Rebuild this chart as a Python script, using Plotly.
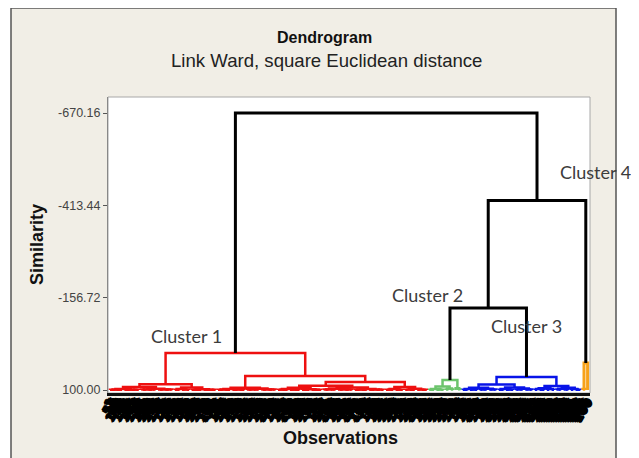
import plotly.graph_objects as go

# ---------------- data ----------------
# observation numbers in dendrogram (leaf) order
obs_order = [
    1, 57, 12, 88, 143, 23, 9, 171, 64, 35, 112, 7, 190, 46, 81, 133, 18, 102, 69, 155,
    3, 127, 41, 94, 166, 28, 75, 199, 14, 118, 53, 86, 140, 22, 61, 182, 37, 108, 5, 149,
    72, 30, 124, 161, 48, 96, 11, 187, 66, 135, 19, 79, 114, 43, 158, 2, 91, 176, 55, 120,
    26, 146, 68, 8, 193, 39, 101, 130, 60, 16, 174, 84, 49, 137, 24, 110, 163, 71, 33, 98,
    152, 13, 185, 58, 122, 44, 90, 6, 168, 77, 141, 31, 105, 197, 63, 20, 128, 51, 179, 85,
    38, 116, 159, 4, 74, 132, 195, 47, 99, 27, 170, 62, 10, 145, 83, 121, 36, 188, 56, 107,
    15, 164, 93, 42, 136, 70, 198, 29, 117, 154, 52, 80, 178, 21, 126, 65, 100, 40, 150, 87,
    173, 34, 119, 59, 191, 17, 97, 139, 76, 45, 162, 25, 109, 183, 67, 131, 50, 89, 156, 32,
    103, 194, 73, 134, 54, 148, 82, 177, 104, 92, 160, 111, 186, 125, 95, 144, 113, 172, 106, 138,
    78, 153, 115, 169, 123, 184, 129, 157, 142, 192, 147, 165, 175, 151, 180, 167, 189, 181, 196, 200,
]

# low-level leaf groups (tight sub-clusters near similarity 100)
group_names = ["r1", "r2", "r3", "r4", "r5", "r6", "r7", "r8", "r9", "r10", "r11", "r12",
               "g1", "g2", "g3",
               "b1", "b2", "b3", "b4", "b5", "b6", "b7", "b8",
               "o1", "o2"]
group_sizes = [13, 14, 7, 11, 12, 13, 10, 9, 13, 13, 8, 10,
               7, 4, 3,
               7, 8, 7, 8, 5, 4, 6, 5,
               2, 1]
group_top = [97.5, 96.5, 97.0, 98.0, 97.0, 96.0, 97.5, 98.0, 96.0, 97.0, 97.5, 96.5,
             97.0, 96.0, 95.0,
             97.0, 96.5, 97.0, 96.0, 97.5, 97.0, 96.5, 97.0,
             98.0, 100.0]
group_inner = [99.2, 98.8, 99.0, 99.3, 99.0, 98.8, 99.2, 99.3, 98.7, 99.0, 99.2, 99.0,
               99.0, 98.5, 98.0,
               99.0, 98.8, 99.0, 98.7, 99.2, 99.0, 98.8, 99.0,
               99.0, 100.0]
group_cluster = ["c1"] * 12 + ["c2"] * 3 + ["c3"] * 8 + ["c4"] * 2

# higher-level merges: name, left child, right child, similarity, cluster (None = black link)
merge_names = ["RA", "RB", "RL", "RC", "RD1", "RD2", "RD", "RE", "RRR", "RR", "RED",
               "GL", "GREEN",
               "BLa", "BLb", "BL", "BRa", "BRb", "BR", "BLUE",
               "ORANGE",
               "C23", "C4", "ROOT"]
merge_left = ["r1", "r3", "RA", "r5", "r7", "r9", "RD1", "r11", "RD", "RC", "RL",
              "g1", "GL",
              "b1", "b3", "BLa", "b5", "b7", "BRa", "BL",
              "o1",
              "GREEN", "C23", "RED"]
merge_right = ["r2", "r4", "RB", "r6", "r8", "r10", "RD2", "r12", "RE", "RRR", "RR",
               "g2", "g3",
               "b2", "b4", "BLb", "b6", "b8", "BRb", "BR",
               "o2",
               "BLUE", "ORANGE", "C4"]
merge_sim = [92.0, 93.0, 84.0, 94.0, 94.0, 93.0, 88.0, 92.0, 78.0, 61.0, -3.0,
             90.0, 72.0,
             94.0, 93.0, 85.0, 95.0, 94.0, 89.0, 64.0,
             25.0,
             -128.0, -427.0, -670.16]
merge_cluster = ["c1"] * 11 + ["c2"] * 2 + ["c3"] * 7 + ["c4"] + [None] * 3

y_tick_vals = [-670.16, -413.44, -156.72, 100.00]
y_tick_text = ["-670.16", "-413.44", "-156.72", "100.00"]

cluster_names = ["Cluster 1", "Cluster 2", "Cluster 3", "Cluster 4"]

# ---------------- styling ----------------
colors = {"c1": "#ee1010", "c2": "#6cc46c", "c3": "#0814e8", "c4": "#f7a21b", None: "#000000"}
widths = {"c1": 2.5, "c2": 2.5, "c3": 2.5, "c4": 3, None: 3}

# ---------------- build dendrogram geometry ----------------
groups = {n: (s, t, i, c) for n, s, t, i, c in
          zip(group_names, group_sizes, group_top, group_inner, group_cluster)}
merges = {n: (l, r, s, c) for n, l, r, s, c in
          zip(merge_names, merge_left, merge_right, merge_sim, merge_cluster)}

segs = {k: ([], []) for k in colors}


def add_link(key, x1, h1, x2, h2, h):
    xs, ys = segs[key]
    xs.extend([x1, x1, x2, x2, None])
    ys.extend([h1, h, h, h2, None])


def build_group(start, n, top, inner, depth, key):
    if n == 1:
        return start, 100.0
    nl = n // 2
    h = top if depth == 0 else inner
    x1, h1 = build_group(start, nl, top, inner, depth + 1, key)
    x2, h2 = build_group(start + nl, n - nl, top, inner, depth + 1, key)
    add_link(key, x1, h1, x2, h2, h)
    return (x1 + x2) / 2, h


counter = [0]


def place(name):
    if name in groups:
        n, top, inner, key = groups[name]
        start = counter[0]
        counter[0] += n
        return build_group(start, n, top, inner, 0, key)
    left, right, sim, key = merges[name]
    x1, h1 = place(left)
    x2, h2 = place(right)
    add_link(key, x1, h1, x2, h2, sim)
    return (x1 + x2) / 2, sim


place("ROOT")
n_leaves = counter[0]

fig = go.Figure()
for key in ["c1", "c2", "c3", "c4", None]:
    xs, ys = segs[key]
    fig.add_trace(go.Scatter(x=xs, y=ys, mode="lines",
                             line=dict(color=colors[key], width=widths[key]),
                             hoverinfo="skip", showlegend=False))

# ---------------- layout ----------------
OFF = 8  # page body margin
W, H = 639 - OFF, 458 - OFF
L, R, T, B = 108 - OFF, 639 - 590, 97 - OFF, 458 - 393
pw, ph = W - L - R, H - T - B


def px(xs):  # screen x -> paper
    return (xs - OFF - L) / pw


def py(ys):  # screen y -> paper
    return (H - B - (ys - OFF)) / ph


shapes = [
    dict(type="rect", xref="paper", yref="paper", x0=px(11), x1=px(616), y0=py(470), y1=py(8),
         fillcolor="#f1eee6", line=dict(color="#555555", width=1.5), layer="below"),
    dict(type="rect", xref="paper", yref="paper", x0=0, x1=1, y0=0, y1=1,
         fillcolor="#ffffff", line=dict(color="#a8a8a8", width=1), layer="below"),
]

label_font = dict(family="Lato, Open Sans, sans-serif", size=18, color="#3c3c3c")
axis_font = dict(family="Liberation Sans, Arial", size=18, color="#111111")


def ann(text, xs, ys, font, angle=0):
    return dict(text=text, xref="paper", yref="paper", x=px(xs), y=py(ys),
                xanchor="center", yanchor="middle", textangle=angle,
                showarrow=False, font=font)


annotations = [
    ann("<b>Dendrogram</b>", 324, 38, dict(family="Liberation Sans, Arial", size=16, color="#111111")),
    ann("Link Ward, square Euclidean distance", 326, 60,
        dict(family="Liberation Sans, Arial", size=18.6, color="#222222")),
    ann("<b>Similarity</b>", 37, 245, axis_font, -90),
    ann("<b>Observations</b>", 340, 438, axis_font),
    ann(cluster_names[0], 186, 336, label_font),
    ann(cluster_names[1], 427, 295, label_font),
    ann(cluster_names[2], 526, 326, label_font),
    ann(cluster_names[3], 595, 172, label_font),
]

fig.update_layout(
    width=W, height=H,
    margin=dict(l=L, r=R, t=T, b=B, pad=0),
    paper_bgcolor="#ffffff",
    plot_bgcolor="rgba(0,0,0,0)",
    shapes=shapes,
    annotations=annotations,
    showlegend=False,
)

fig.update_xaxes(
    range=[-2 / 2.4, (590 - 110) / 2.4],
    tickmode="array",
    tickvals=list(range(n_leaves)),
    ticktext=[str(v) for v in obs_order[:n_leaves]],
    tickangle=-60,
    ticklabelstandoff=-6,
    tickfont=dict(family="DejaVu Sans, Liberation Sans", size=12, color="#000000", weight="bold",
                  shadow="1px 0 0 #000, -1px 0 0 #000, 0 1px 0 #000, 0 -1px 0 #000"),
    showgrid=False, zeroline=False,
    showline=True, linecolor="#111111", linewidth=3,
    ticks="", fixedrange=True,
)
fig.update_yaxes(
    range=[100 + 3 / 0.3597, -670.16 - 16 / 0.3597],
    tickmode="array",
    tickvals=y_tick_vals,
    ticktext=y_tick_text,
    tickfont=dict(family="Liberation Sans, Arial", size=12.5, color="#444444"),
    ticks="outside", ticklen=4, tickcolor="#555555", tickwidth=1,
    showgrid=False, zeroline=False,
    showline=True, linecolor="#888888", linewidth=1,
    fixedrange=True,
)

fig.write_html("out.html")
